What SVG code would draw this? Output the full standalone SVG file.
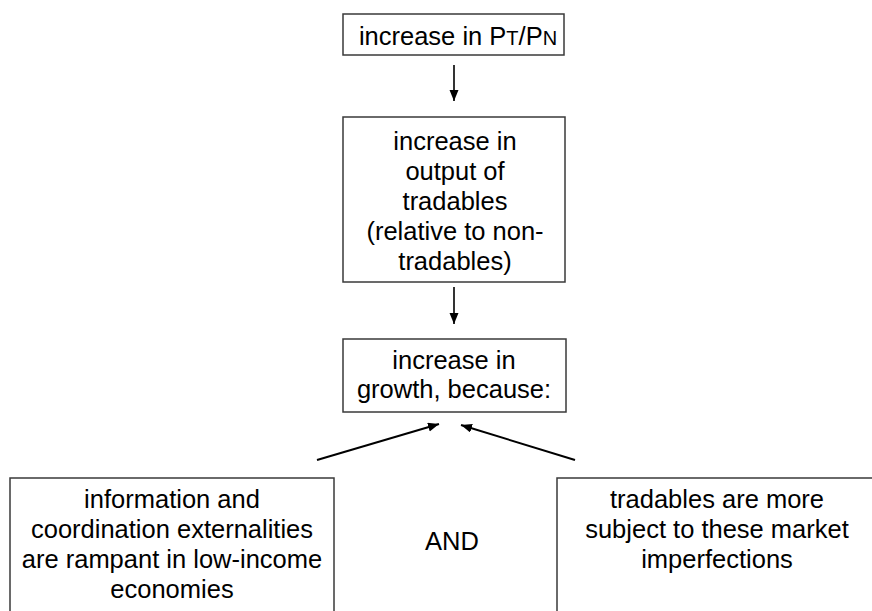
<svg xmlns="http://www.w3.org/2000/svg" width="872" height="611" viewBox="0 0 872 611">
<style>
.box{fill:#fff;stroke:#3a3a3a;stroke-width:1.5}
.t{font-family:"Liberation Sans",Arial,sans-serif;font-size:25.5px;fill:#000;text-anchor:middle}
.sc{font-size:20px}
.c{stroke:#000;stroke-width:1.6;fill:none;marker-end:url(#ah)}
.d{stroke-width:2}
</style>
<defs>
<marker id="ah" markerUnits="userSpaceOnUse" markerWidth="12" markerHeight="10" refX="11" refY="4.5" orient="auto">
<path d="M0,0 L11,4.5 L0,9 Z" fill="#000"/>
</marker>
</defs>
<rect width="872" height="611" fill="#fff"/>
<g id="connectors">
<line class="c" x1="454" y1="65" x2="454" y2="101"/>
<line class="c" x1="454" y1="287" x2="454" y2="324"/>
<line class="c d" x1="317" y1="460" x2="439" y2="424"/>
<line class="c d" x1="575" y1="460" x2="461" y2="425"/>
</g>
<g id="n1">
<rect class="box" x="343" y="14" width="221" height="41"/>
<text class="t" x="458" y="45">increase in P<tspan class="sc">T</tspan>/P<tspan class="sc">N</tspan></text>
</g>
<g id="n2">
<rect class="box" x="343" y="117" width="222" height="165"/>
<text class="t" x="455" y="150">increase in</text>
<text class="t" x="455" y="180">output of</text>
<text class="t" x="455" y="210">tradables</text>
<text class="t" x="455" y="240">(relative to non-</text>
<text class="t" x="455" y="270">tradables)</text>
</g>
<g id="n3">
<rect class="box" x="343" y="339" width="223" height="73"/>
<text class="t" x="454" y="369">increase in</text>
<text class="t" x="454" y="398">growth, because:</text>
</g>
<g id="n4">
<rect class="box" x="10" y="478" width="324" height="150"/>
<text class="t" x="172" y="508">information and</text>
<text class="t" x="172" y="538">coordination externalities</text>
<text class="t" x="172" y="568">are rampant in low-income</text>
<text class="t" x="172" y="598">economies</text>
</g>
<g id="n5">
<text class="t" x="452" y="550">AND</text>
</g>
<g id="n6">
<rect class="box" x="557" y="478" width="324" height="150"/>
<text class="t" x="717" y="508">tradables are more</text>
<text class="t" x="717" y="538">subject to these market</text>
<text class="t" x="717" y="568">imperfections</text>
</g>
</svg>
